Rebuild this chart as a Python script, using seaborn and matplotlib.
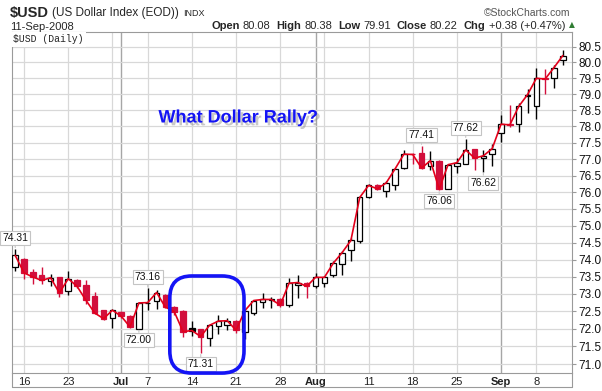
import matplotlib
matplotlib.use("Agg")
import matplotlib.pyplot as plt
import matplotlib.patheffects as pe
from matplotlib.patches import FancyBboxPatch
from matplotlib.lines import Line2D
from matplotlib.ticker import FixedLocator, NullLocator, FormatStrFormatter
import numpy as np
import pandas as pd
import seaborn as sns

sns.set_style("white")
plt.rcParams['font.family'] = ['Liberation Sans', 'DejaVu Sans']

# trading days 13-Jun-2008 .. 11-Sep-2008 (no 4th of July, no Labor Day)
days = pd.bdate_range("2008-06-13", "2008-09-11")
days = days[~days.isin(pd.to_datetime(["2008-07-04", "2008-09-01"]))]

opens = [73.77, 74.02, 73.65, 73.54, 73.37, 73.49, 73.09, 73.41, 73.25, 72.93,
         72.53, 72.32, 72.48, 72.36, 72.00, 72.73, 72.81, 72.97, 72.62, 72.51,
         72.01, 71.98, 71.74, 72.08, 72.10, 72.23, 71.90, 72.44, 72.78, 72.82,
         72.85, 72.68, 73.27, 73.33, 73.24, 73.33, 73.54, 73.88, 74.28, 74.53,
         75.84, 76.22, 76.02, 76.20, 76.74, 77.16, 77.18, 76.78, 76.95, 76.09,
         76.80, 76.86, 77.30, 77.03, 77.15, 77.81, 78.08, 78.07, 78.96, 78.62,
         79.51, 79.52, 80.08]
highs = [74.31, 74.05, 73.72, 73.78, 73.59, 73.50, 73.66, 73.43, 73.41, 73.06,
         72.55, 72.56, 72.50, 72.38, 72.77, 73.16, 73.10, 72.99, 72.64, 72.53,
         72.23, 71.99, 72.13, 72.40, 72.30, 72.25, 72.53, 72.83, 73.04, 72.90,
         72.88, 73.45, 73.56, 73.35, 73.60, 73.51, 73.95, 74.25, 74.64, 75.87,
         76.25, 76.24, 76.35, 76.72, 77.27, 77.20, 77.41, 77.26, 76.96, 76.85,
         77.03, 77.62, 77.31, 77.28, 77.47, 78.34, 78.66, 78.72, 79.18, 79.84,
         79.80, 79.92, 80.38]
lows = [73.66, 73.44, 73.30, 73.30, 73.22, 72.91, 72.96, 73.18, 72.70, 72.43,
        72.26, 72.02, 72.32, 72.02, 72.00, 72.53, 72.56, 72.59, 72.40, 71.77,
        71.79, 71.31, 71.52, 71.85, 71.96, 71.89, 71.72, 72.40, 72.59, 72.60,
        72.62, 72.62, 72.88, 72.87, 73.17, 73.20, 73.50, 73.55, 73.95, 74.50,
        75.83, 76.05, 75.85, 76.07, 76.70, 76.84, 76.70, 76.68, 76.06, 76.08,
        76.58, 76.84, 76.68, 76.62, 76.78, 77.52, 77.98, 77.83, 78.42, 78.24,
        79.00, 79.20, 79.91]
closes = [74.12, 73.61, 73.49, 73.39, 73.47, 73.03, 73.44, 73.22, 72.82, 72.45,
          72.29, 72.53, 72.36, 72.05, 72.74, 72.75, 73.04, 72.62, 72.49, 71.92,
          71.95, 71.78, 72.10, 72.22, 72.23, 71.96, 72.52, 72.81, 72.84, 72.84,
          72.68, 73.31, 73.33, 73.22, 73.48, 73.48, 73.89, 74.20, 74.56, 75.84,
          76.20, 76.10, 76.28, 76.70, 77.15, 77.14, 76.73, 76.95, 76.09, 76.83,
          76.89, 77.28, 77.03, 77.10, 77.32, 78.07, 78.05, 78.62, 78.99, 79.50,
          79.48, 79.84, 80.22]

# value call-outs: (day index, which price)
callout_days = [0, 15, 14, 21, 46, 48, 51, 53]
callout_side = ["high", "high", "low", "low", "high", "low", "high", "low"]

# circled region (day index range, price range)
circle_days = (17.5, 25.9)
circle_vals = (70.75, 73.52)

RED = "#d20f3c"
LINE_RED = "#e3001b"
BLUE = "#1414f5"

df = pd.DataFrame({"i": np.arange(len(days)), "date": days, "open": opens,
                   "high": highs, "low": lows, "close": closes})

W, H = 602, 391
fig = plt.figure(figsize=(W / 100, H / 100), dpi=100)
left, right, top, bottom = 11.7, 571.7, 31.7, 372.7
ax = fig.add_axes([left / W, 1 - bottom / H, (right - left) / W, (bottom - top) / H])

ax.set_yscale("log")
ax.set_ylim(70.76, 80.98)
ax.set_xlim(-0.4, 63.0)

# grid lines: first trading day of each week / month
week = df.date.dt.isocalendar().week
week_start = df.i[(week != week.shift(1)) & (df.i > 0)].tolist()
month_start = df.i[(df.date.dt.month != df.date.dt.month.shift(1)) & (df.i > 0)].tolist()
for p in week_start:
    if p not in month_start:
        ax.axvline(p, color="#d8d8d8", lw=0.9, zorder=0)
for p in month_start:
    ax.axvline(p, color="#a6a6a6", lw=1.0, zorder=0)
yt = np.arange(71.0, 80.51, 0.5)
for v in yt:
    ax.axhline(v, color="#d8d8d8", lw=0.9, zorder=0)

# candles
prev = df.close.shift(1)
is_red = (df.close < prev).values
col = np.where(is_red, RED, "black")
hollow = (df.close >= df.open).values
ax.vlines(df.i, df.low, df.high, colors=col, lw=1.0, zorder=2)
body_lo = np.minimum(df.open, df.close)
body_h = np.maximum((df.close - df.open).abs(), 0.02)
ax.bar(df.i, body_h, bottom=body_lo, width=0.62,
       color=np.where(hollow, "white", col), edgecolor=col, linewidth=0.9, zorder=3)
sns.lineplot(data=df, x="i", y="close", color=LINE_RED, lw=1.2, ax=ax, zorder=4)

# axes styling
for s in ax.spines.values():
    s.set_color("#9a9a9a")
    s.set_linewidth(0.8)
ax.yaxis.tick_right()
ax.yaxis.set_major_locator(FixedLocator(yt))
ax.yaxis.set_minor_locator(NullLocator())
ax.yaxis.set_major_formatter(FormatStrFormatter("%.1f"))
ax.tick_params(axis="y", which="major", direction="out", length=3, width=0.8,
               color="#9a9a9a", labelsize=8.5, pad=2, labelcolor="#111111")

lab_pos, lab_txt, lab_bold = [], [], []
for p in sorted(set(week_start) | set(month_start)):
    if p in month_start:
        lab_pos.append(p); lab_txt.append(df.date[p].strftime("%b")); lab_bold.append(True)
    elif min(abs(p - m) for m in month_start) > 2:
        lab_pos.append(p); lab_txt.append(str(df.date[p].day)); lab_bold.append(False)
ax.set_xticks(lab_pos)
ax.set_xticklabels(lab_txt)
for t, b in zip(ax.get_xticklabels(), lab_bold):
    if b:
        t.set_fontweight("bold")
ax.xaxis.set_minor_locator(FixedLocator(df.i.tolist()))
ax.tick_params(axis="x", which="major", length=0, labelsize=8, pad=3, labelcolor="#222222")
ax.tick_params(axis="x", which="minor", direction="in", length=2, width=0.7, color="#9a9a9a")
ax.set_xlabel("")
ax.set_ylabel("")

# value call-outs
for d, side in zip(callout_days, callout_side):
    v = df[side][d]
    off = 11 if side == "high" else -11
    ax.annotate(f"{v:.2f}", xy=(d, v), xytext=(0, off), textcoords="offset pixels",
                ha="center", va="center", fontsize=7.5, color="#111111",
                bbox=dict(boxstyle="square,pad=0.2", fc="white", ec="#c4c4c4", lw=0.8),
                arrowprops=dict(arrowstyle="-", color="#c4c4c4", lw=0.8, shrinkA=0, shrinkB=1),
                zorder=6, annotation_clip=False)

# blue rounded frame around the July dip
(x0, y0), (x1, y1) = ax.transData.transform([(circle_days[0], circle_vals[0]),
                                              (circle_days[1], circle_vals[1])])
frame = FancyBboxPatch((x0, y0), x1 - x0, y1 - y0,
                       boxstyle="round,pad=0,rounding_size=22",
                       transform=None, fill=False, ec=BLUE, lw=2.6, zorder=7)
fig.add_artist(frame)

tx, ty = ax.transData.inverted().transform((238, H - 118))
ax.text(tx, ty, "What Dollar Rally?", color=BLUE, fontsize=13, fontweight="bold",
        ha="center", va="center", zorder=8,
        path_effects=[pe.SimplePatchShadow(offset=(2, -2), shadow_rgbFace="#888888", alpha=0.45),
                      pe.Normal()])

# header


def px(x, y):
    return x / W, 1 - y / H


renderer = fig.canvas.get_renderer()


def chain(x, y, pieces):
    for s, kw, gap in pieces:
        t = fig.text(*px(x, y), s, va="center", **kw)
        x += t.get_window_extent(renderer).width + gap
    return x


chain(10, 13, [(r"\$USD", dict(fontsize=10.5, fontweight="bold"), 3),
               ("(US Dollar Index (EOD))", dict(fontsize=8.5), 4),
               ("INDX", dict(fontsize=6.5), 0)])
fig.text(*px(10, 27), "11-Sep-2008", fontsize=8, va="center")
fig.text(*px(570, 13), "\u00a9StockCharts.com", fontsize=7.5, color="#555555",
         ha="right", va="center")

b, n = dict(fontsize=8, fontweight="bold"), dict(fontsize=8)
xpos = chain(211, 26, [("Open", b, 3), ("80.08", n, 6), ("High", b, 3), ("80.38", n, 6),
                       ("Low", b, 3), ("79.91", n, 6), ("Close", b, 3), ("80.22", n, 6),
                       ("Chg", b, 3), ("+0.38 (+0.47%)", n, 4)])
fig.text(*px(xpos, 25), "\u25b2", fontsize=5.5, color="#2f7d32", va="center",
         family=["DejaVu Sans"])

fig.text(*px(13, 39.5), "$USD (Daily)", fontsize=7, family=["Liberation Mono", "DejaVu Sans Mono"],
         va="center", bbox=dict(boxstyle="square,pad=0.25", fc="white", ec="none"), zorder=5)

# strip under the date labels
fig.add_artist(Line2D([left / W, right / W], [1 - 387 / H] * 2, color="#9a9a9a", lw=0.8))
fig.add_artist(Line2D([left / W] * 2, [1 - bottom / H, 1 - 387 / H], color="#9a9a9a", lw=0.8))
fig.add_artist(Line2D([right / W] * 2, [1 - bottom / H, 1 - 387 / H], color="#9a9a9a", lw=0.8))

fig.savefig("out.png", dpi=100)
